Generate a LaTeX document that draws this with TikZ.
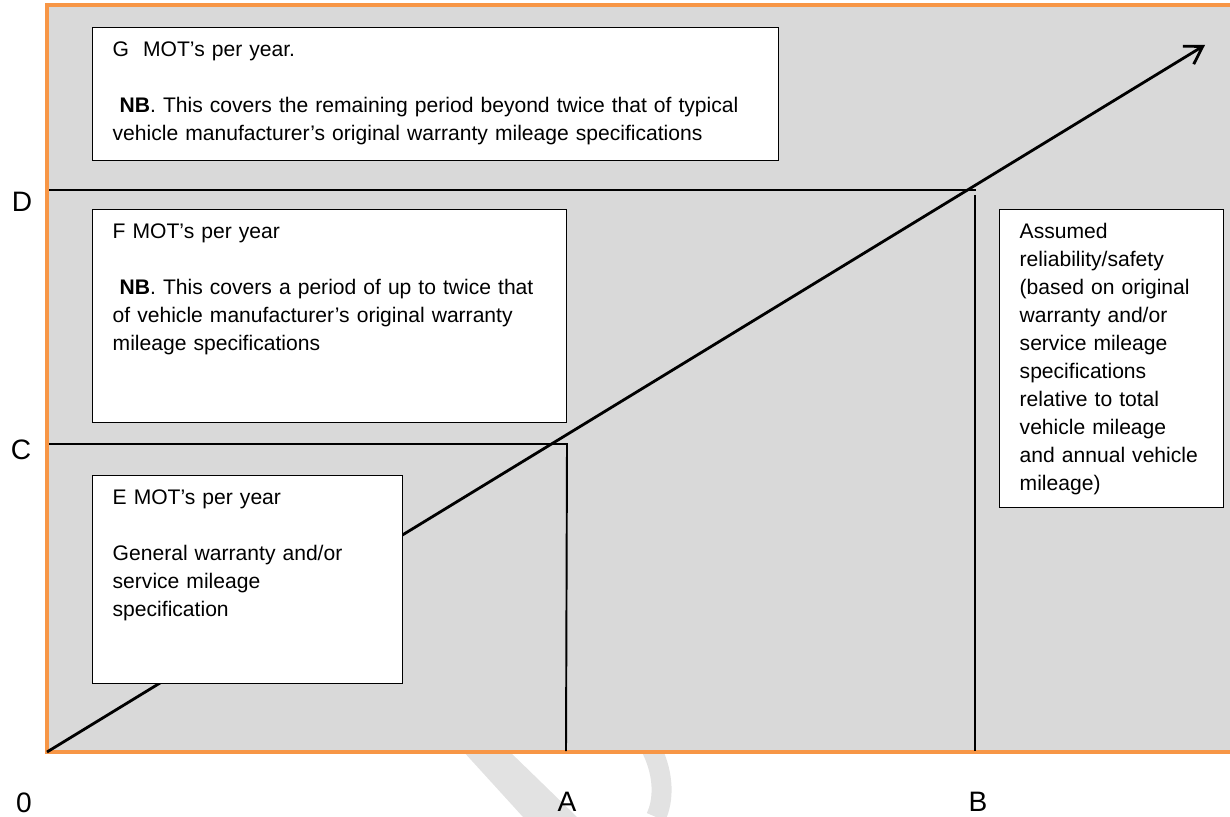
\documentclass[tikz,border=0pt]{standalone}
\usepackage{fontspec}
\setmainfont{Liberation Sans}
\usetikzlibrary{arrows.meta}

\definecolor{frameorange}{HTML}{F79646}
\definecolor{panelgrey}{HTML}{D9D9D9}
\definecolor{markgrey}{HTML}{E2E2E2}

\begin{document}
\begin{tikzpicture}[x=0.02cm,y=-0.02cm]
    \tikzstyle{edge}  = [line width=1.1pt,draw=black]
    \tikzstyle{dedge} = [line width=1.6pt,draw=black,
      -{Straight Barb[length=0.34cm,width=0.42cm,line width=1.6pt]}]
    \tikzstyle{frame} = [line width=2.4pt,draw=frameorange]
    \tikzstyle{note}=[
      draw=black,
      line width=0.8pt,
      fill=white,
      anchor=north west,
      align=left,
      inner xsep=0.4cm,
      inner ysep=0pt,
      text height=0.58cm,
      font=\fontsize{12pt}{15.9pt}\selectfont,
    ]
    \tikzstyle{axis}=[inner sep=0pt,font=\fontsize{16pt}{19pt}\selectfont]

    \useasboundingbox (0,0) rectangle (1230,817);

    % faint watermark pieces below the panel
    \fill[markgrey] (462,750) -- (508,750) -- (577,817) -- (523,817) -- cycle;
    \draw[markgrey,line width=0.4cm] (652,750) .. controls (664,775) and (664,800) .. (656,817);

    % panel
    \fill[panelgrey] (47,5) rectangle (1230,752);
    \draw[frame] (1230,5) -- (47,5) -- (47,752) -- (1230,752);

    \coordinate (o)  at (47,752);
    \coordinate (d0) at (49,190);
    \coordinate (d1) at (976,190);
    \coordinate (b0) at (975,195);
    \coordinate (b1) at (975,751);
    \coordinate (c0) at (49,444);
    \coordinate (c1) at (567,444);
    \coordinate (a1) at (566,751);
    \coordinate (tip) at (1205,45);

    \draw[edge] (d0)--(d1);
    \draw[edge] (b0)--(b1);
    \draw[edge] (c0)--(c1)--(a1);
    \draw[dedge] (o)--(tip);

    \node[note,text width=12.92cm,text depth=2.08cm] (g) at (92,27)
      {G\ \ MOT’s per year.\\[0.56cm]
       \ \textbf{NB}. This covers the remaining period beyond twice that of typical\\
       vehicle manufacturer’s original warranty mileage specifications};
    \node[note,text width=8.68cm,text depth=3.68cm] (f) at (92,209)
      {F MOT’s per year\\[0.56cm]
       \ \textbf{NB}. This covers a period of up to twice that\\
       of vehicle manufacturer’s original warranty\\
       mileage specifications};
    \node[note,text width=5.4cm,text depth=3.58cm] (e) at (92,475)
      {E MOT’s per year\\[0.56cm]
       General warranty and/or\\
       service mileage\\
       specification};
    \node[note,text width=3.68cm,text depth=5.38cm] (r) at (999,209)
      {Assumed\\
       reliability/safety\\
       (based on original\\
       warranty and/or\\
       service mileage\\
       specifications\\
       relative to total\\
       vehicle mileage\\
       and annual vehicle\\
       mileage)};

    \node[axis] (lD) at (22,202) {D};
    \node[axis] (lC) at (21,450) {C};
    \node[axis] (l0) at (24,803) {0};
    \node[axis] (lA) at (567,802) {A};
    \node[axis] (lB) at (978,802) {B};
\end{tikzpicture}
\end{document}
